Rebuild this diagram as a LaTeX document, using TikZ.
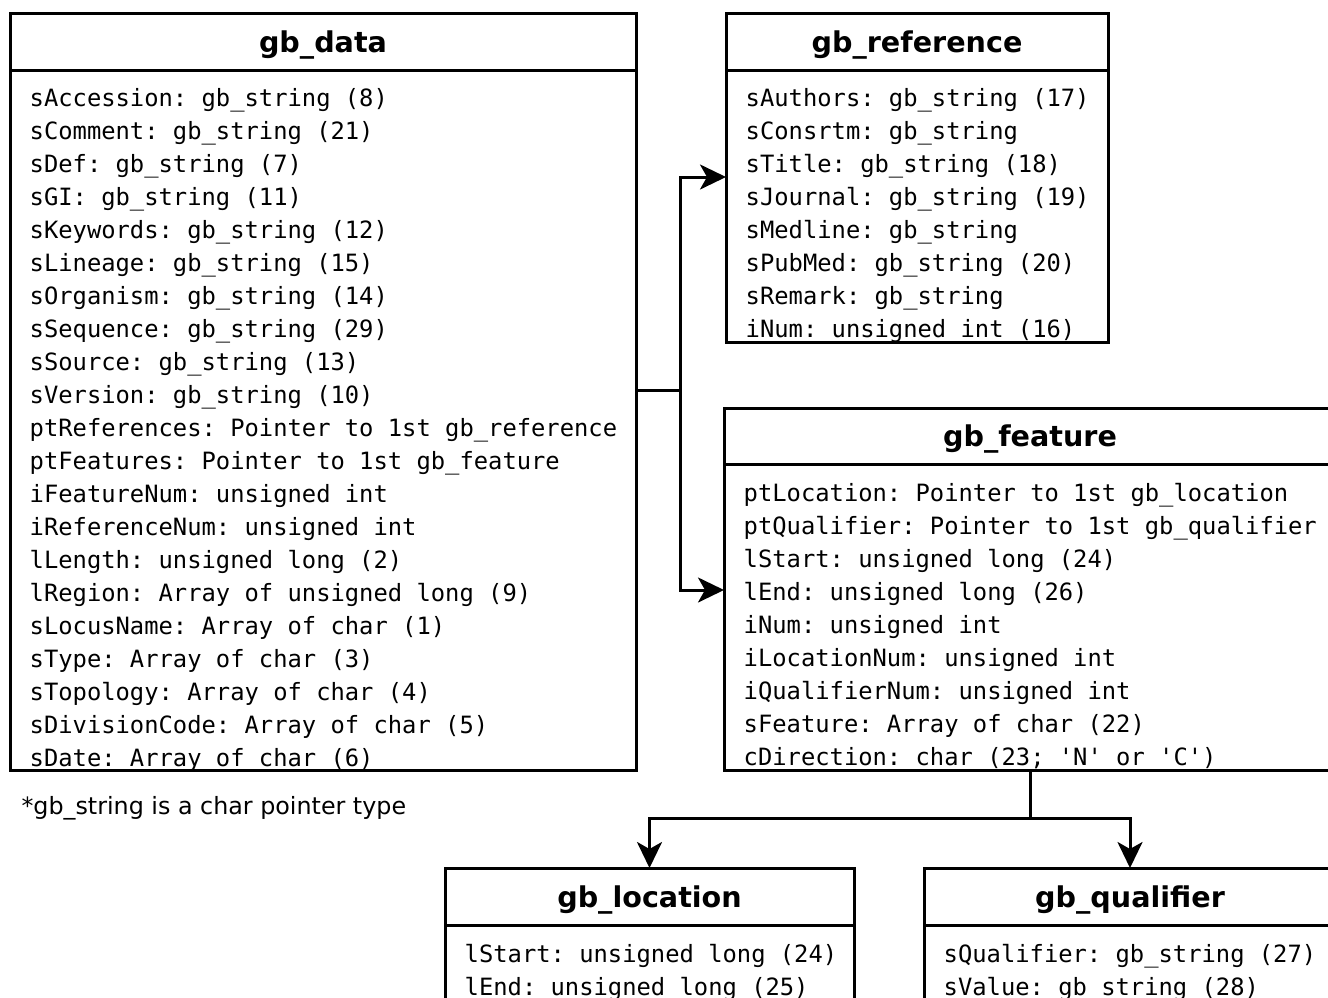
\documentclass[tikz,border=0pt]{standalone}
\usepackage{fontspec}
\setmainfont{DejaVu Sans}
\setmonofont{DejaVu Sans Mono}
\usetikzlibrary{arrows.meta,positioning}
\pgfdeclarelayer{bg}
\pgfsetlayers{bg,main}

\tikzset{
  head/.style={draw, line width=3pt, inner sep=0pt, outer sep=0pt, minimum height=57pt,
    text depth=0pt, font=\bfseries\fontsize{28.6}{34}\selectfont},
  body/.style={draw, line width=3pt, inner sep=0pt, outer sep=0pt},
  fields/.style={inner sep=0pt, align=left, execute at begin node=\strut,
    font=\ttfamily\fontsize{23.8}{33}\selectfont},
  link/.style={line width=3pt},
  arr/.style={link, -{Stealth[length=26pt,width=25pt,inset=7pt]}},
}

\begin{document}
\begin{tikzpicture}[x=1pt,y=-1pt]
  \useasboundingbox (0,0) rectangle (1328,997);
  \clip (0,0) rectangle (1328,997);

  % class boxes
  \node (datahead) [head, minimum width=626pt] at (323,41.5) {gb\_data};
  \node (databody) [body, minimum width=626pt, minimum height=700pt, below=0pt of datahead] {};

  \node (refhead) [head, minimum width=382pt] at (917,41.5) {gb\_reference};
  \node (refbody) [body, minimum width=382pt, minimum height=272pt, below=0pt of refhead] {};

  \node (feathead) [head, minimum width=612pt, minimum height=56pt] at (1030,436) {gb\_feature};
  \node (featbody) [body, minimum width=612pt, minimum height=306pt, below=0pt of feathead] {};

  \node (lochead) [head, minimum width=409pt] at (649.5,896.5) {gb\_location};
  \node (locbody) [body, minimum width=409pt, minimum height=80pt, below=0pt of lochead] {};

  \node (qualhead) [head, minimum width=412pt] at (1130,896.5) {gb\_qualifier};
  \node (qualbody) [body, minimum width=412pt, minimum height=80pt, below=0pt of qualhead] {};

  % members
  \begin{pgfonlayer}{bg}
  \node (datatxt) [fields, below right=18.5pt and 19.5pt of databody.north west] {%
    sAccession: gb\_string (8)\\
    sComment: gb\_string (21)\\
    sDef: gb\_string (7)\\
    sGI: gb\_string (11)\\
    sKeywords: gb\_string (12)\\
    sLineage: gb\_string (15)\\
    sOrganism: gb\_string (14)\\
    sSequence: gb\_string (29)\\
    sSource: gb\_string (13)\\
    sVersion: gb\_string (10)\\
    ptReferences: Pointer to 1st gb\_reference\\
    ptFeatures: Pointer to 1st gb\_feature\\
    iFeatureNum: unsigned int\\
    iReferenceNum: unsigned int\\
    lLength: unsigned long (2)\\
    lRegion: Array of unsigned long (9)\\
    sLocusName: Array of char (1)\\
    sType: Array of char (3)\\
    sTopology: Array of char (4)\\
    sDivisionCode: Array of char (5)\\
    sDate: Array of char (6)};
  \node (reftxt) [fields, below right=18.5pt and 19.5pt of refbody.north west] {%
    sAuthors: gb\_string (17)\\
    sConsrtm: gb\_string\\
    sTitle: gb\_string (18)\\
    sJournal: gb\_string (19)\\
    sMedline: gb\_string\\
    sPubMed: gb\_string (20)\\
    sRemark: gb\_string\\
    iNum: unsigned int (16)};
  \node (feattxt) [fields, below right=19pt and 19.5pt of featbody.north west] {%
    ptLocation: Pointer to 1st gb\_location\\
    ptQualifier: Pointer to 1st gb\_qualifier\\
    lStart: unsigned long (24)\\
    lEnd: unsigned long (26)\\
    iNum: unsigned int\\
    iLocationNum: unsigned int\\
    iQualifierNum: unsigned int\\
    sFeature: Array of char (22)\\
    cDirection: char (23; 'N' or 'C')};
  \node (loctxt) [fields, below right=19pt and 19.5pt of locbody.north west] {%
    lStart: unsigned long (24)\\
    lEnd: unsigned long (25)};
  \node (qualtxt) [fields, below right=19pt and 19.5pt of qualbody.north west] {%
    sQualifier: gb\_string (27)\\
    sValue: gb\_string (28)};
  \end{pgfonlayer}

  \node (note) [anchor=west, font=\fontsize{23.8}{28}\selectfont] at (18,808) {*gb\_string is a char pointer type};

  % pointers
  \coordinate (split) at (680,390);
  \coordinate (fork) at (1030,818);
  \draw [link] (databody.east |- split) -- (split);
  \draw [arr] (split) |- ([yshift=-107pt]refbody.north west);
  \draw [arr] (split) |- ([yshift=-126pt]featbody.north west);
  \draw [link] (featbody.south) -- (fork);
  \draw [arr] (fork) -| (lochead.north);
  \draw [arr] (fork) -| (qualhead.north);
\end{tikzpicture}
\end{document}
